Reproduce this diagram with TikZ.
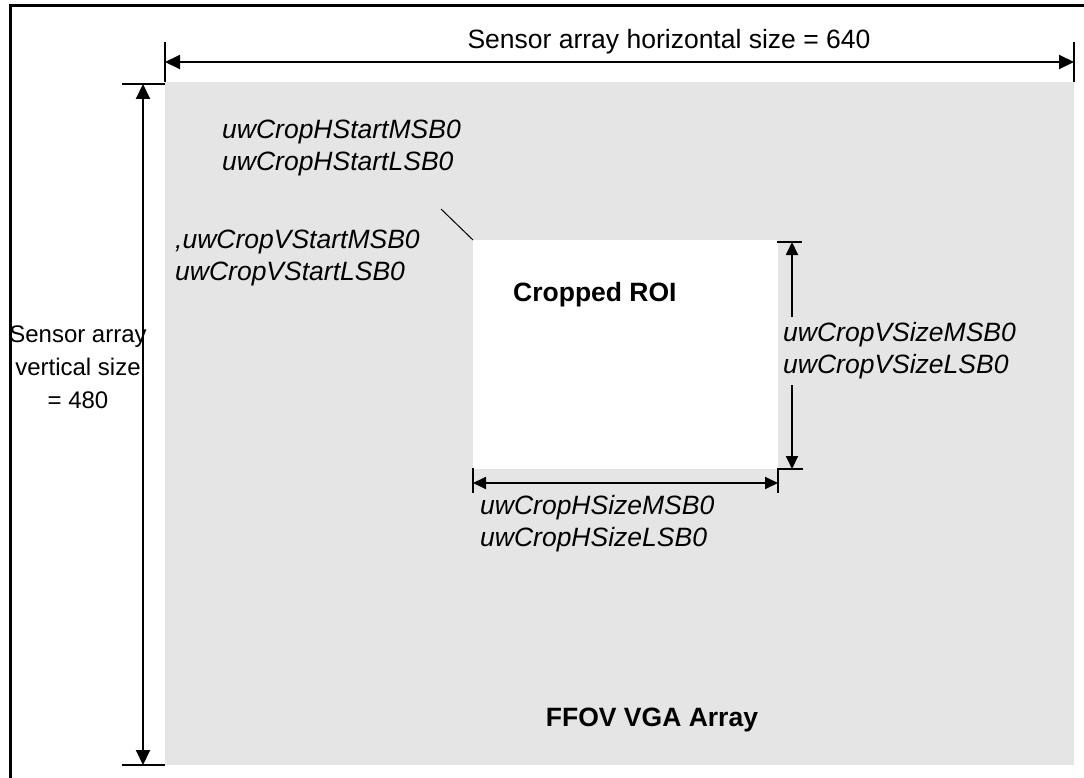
\documentclass[tikz,border=0pt]{standalone}
\usepackage{fontspec}
\setmainfont{Liberation Sans}
\usetikzlibrary{arrows.meta}
\definecolor{arrayGray}{RGB}{229,229,229}
\begin{document}
\begin{tikzpicture}
[x=1pt,y=-1pt,
  frameDecorate/.style={line width=3pt},
  areaDecorate/.style={anchor=north west,inner sep=0pt,outer sep=0pt},
  dimDecorate/.style={{Triangle[length=15pt,width=14pt]}-{Triangle[length=15pt,width=14pt]},line width=2pt},
  smallDimDecorate/.style={{Triangle[length=13pt,width=12pt]}-{Triangle[length=13pt,width=12pt]},line width=1.8pt},
  tickDecorate/.style={-,line width=2pt},
  regLabel/.style={font=\fontsize{26.5}{33}\selectfont,align=center,inner sep=0pt},
  regLabelBold/.style={font=\fontsize{26.5}{33}\selectfont\bfseries,inner sep=0pt},
  regLabelItalic/.style={font=\fontsize{26.5}{32}\selectfont\itshape,align=left,inner sep=0pt,anchor=west}]
\useasboundingbox (0,0) rectangle (1084,778);
%% frame and areas
\draw[frameDecorate] (10,778) -- (10,6) -- (1084,6);
\node (array) at (165,82) [areaDecorate,fill=arrayGray,minimum width=909pt,minimum height=683pt] {};
\node (roi) at (473,240) [areaDecorate,fill=white,minimum width=305pt,minimum height=229pt] {};
\node (vsize) at (78,367) [regLabel,font=\fontsize{24}{33}\selectfont] {Sensor array\\vertical size\\= 480};
%% dimension end points
\foreach \nodename/\x/\y in {
  hl/165/62, hr/1074/62, vt/143/84, vb/143/765,
  rt/792/242, rb/792/469, bl/473/483, br/778/483}
{
  \coordinate (\nodename) at (\x,\y);
}
%% tick end points
\foreach \nodename/\x/\y in {
  ta1/165/42, ta2/165/82, tb1/1074/42, tb2/1074/82,
  tc1/122/84, tc2/165/84, td1/122/765, td2/165/765,
  te1/777/242, te2/802/242, tf1/778/469, tf2/803/469,
  tg1/473/468, tg2/473/493, th1/778/468, th2/778/493,
  lead/441/209}
{
  \coordinate (\nodename) at (\x,\y);
}
%% ticks and dimension lines
\path
\foreach \startnode/\endnode in {
  ta1/ta2, tb1/tb2, tc1/tc2, td1/td2, te1/te2, tf1/tf2, tg1/tg2, th1/th2}
{
  (\startnode) edge[tickDecorate] (\endnode)
}
\foreach \startnode/\endnode in {hl/hr, vt/vb}
{
  (\startnode) edge[dimDecorate] (\endnode)
}
\foreach \startnode/\endnode in {rt/rb, bl/br}
{
  (\startnode) edge[smallDimDecorate] (\endnode)
};
\draw[line width=1pt] (lead) -- (roi.north west);
%% labels
\node (hsize) at (669,42) [regLabel] {Sensor array horizontal size = 640};
\node (hstart) at (222,148) [regLabelItalic] {uwCropHStartMSB0\\uwCropHStartLSB0};
\node (vstart) at (175,258) [regLabelItalic] {,uwCropVStartMSB0\\uwCropVStartLSB0};
\node (vcrop) at (783,351) [regLabelItalic,fill=arrayGray,inner ysep=6pt] {uwCropVSizeMSB0\\uwCropVSizeLSB0};
\node (hcrop) at (480,524) [regLabelItalic] {uwCropHSizeMSB0\\uwCropHSizeLSB0};
\node (roiname) at (513,295) [regLabelBold,anchor=west] {Cropped ROI};
\node (arrayname) at (652,720) [regLabelBold] {FFOV VGA Array};
\end{tikzpicture}
\end{document}
